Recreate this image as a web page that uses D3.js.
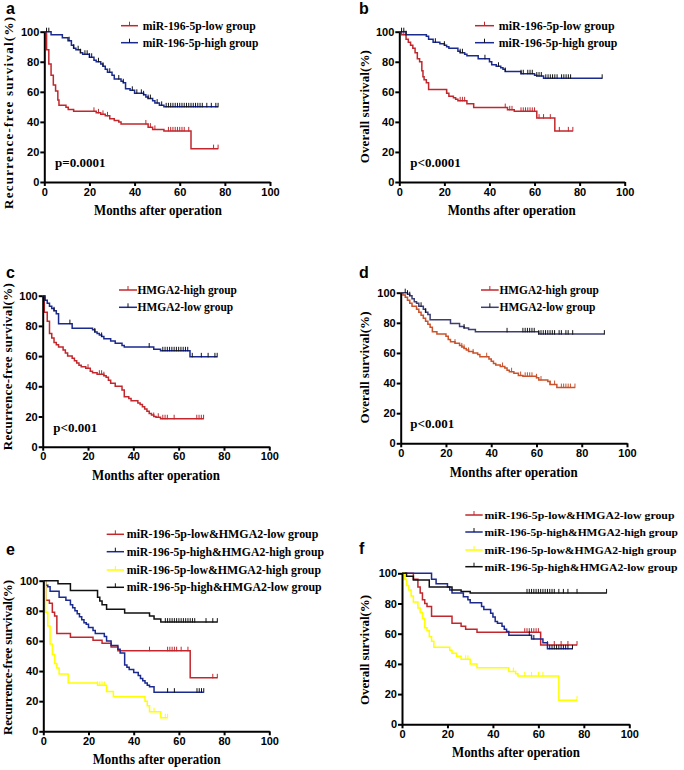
<!DOCTYPE html>
<html><head><meta charset="utf-8">
<script src="https://cdn.jsdelivr.net/npm/d3@7"></script>
<style>body{margin:0;background:#fff}svg{display:block}</style>
</head><body>
<svg id="chart" width="684" height="770"></svg>
<script>
// ---------------- DATA (time in months, survival in %) ----------------
const xTicks = [0, 20, 40, 60, 80, 100];
const yTicks = [0, 20, 40, 60, 80, 100];

// Panel a: Recurrence-free survival, miR-196-5p
const aLowSteps = [[1,88],[2,78.5],[3,71],[4,64.5],[5,60.5],[6,54.5],[6.5,51],[9.6,49.7],[10.6,48.3],[13,47],[23,46],[25,45],[27,44],[29,42],[31,41],[33,40],[34,38.6],[46,36.5],[48,35],[53,34],[65,22.2]];
const aLowCensor = [22,24,26,28,45,47,49,55,56,57,58,59,60,61,62,64,75,77];
const aLowEnd = 77;
const aHighSteps = [[3,98],[8,96],[10.5,94],[12,91],[13,89],[14,88],[16,86],[17,85],[20,83],[22,81],[23,80],[25,78.5],[26,77],[27,75],[28,73],[30,71],[31,68.5],[34,67],[35,66],[36,62],[38,61],[40,59],[44,58],[45,56.5],[46,55.5],[48,54],[49,52.5],[51,51],[53,50]];
const aHighCensor = [1,2,11,13,15,16,18,19,20,21,24,26,29,33,35,39,41,43,44,46,47,50,52,54,55,56,57,58,59,60,61,62,63,64,65,66,67,68,69,70,72,74,76,77];
const aHighEnd = 77;

// Panel b: Overall survival, miR-196-5p
const bLowSteps = [[1,98],[3,95],[4,93],[5,91],[6,89],[7,86],[8,82],[9,80],[10,74],[10.5,70],[11,68],[12,66],[13,61.5],[21,59],[22,57],[24,56],[25,55],[26,54],[30,52],[33,49.5],[48,48],[51,47],[61,42.5],[69,34]];
const bLowCensor = [2,21,27,28,29,47,49,50,54,55,56,57,58,59,60,62,64,67,71,75,77];
const bLowEnd = 77;
const bHighSteps = [[3,98],[12,97],[13,95],[15,93],[18,92],[20,91],[21,90],[22,89],[26,87],[27,86],[29,85],[30,84],[35,82],[40,80],[41,78],[43,77],[45,76],[46,75],[47,73.5],[54,72],[60,71],[61,70.5],[64,69]];
const bHighCensor = [1,2,3,16,20,27,28,38,44,47,54,55,57,58,59,61,62,63,65,66,67,68,69,70,72,73,74,75,76,90];
const bHighEnd = 90;

// Panel c: Recurrence-free survival, HMGA2
const cHighSteps = [[0.7,89],[2,83],[3,75],[4,72],[5,69],[6,67.5],[7,66],[9,64],[10,62],[11,60],[13,58.5],[14,57],[15,55.5],[16,54],[17,53],[19,52],[21,50],[22,49],[24,48],[27,47],[28,46],[29,44],[30,42],[32,40],[35,37.5],[36,33],[38,32],[39,30.5],[42,29],[43,28],[44,26.5],[45,25],[46,23.5],[47,22],[48,21],[49,20],[50,19.5],[52,18.5]];
const cHighCensor = [20,25,26,27,49,51,53,54,55,58,68,69,70,71];
const cHighEnd = 71;
const cLowSteps = [[1,97],[2,95],[3,93],[4,91.5],[5,90],[6,88],[7,81.5],[13,78.5],[22,77.5],[23,76],[24,75],[25,74],[26,73],[27,71.5],[30,70],[32,68.5],[35,67],[36,66],[49,64.5],[52,63.5],[65,59.5]];
const cLowCensor = [1,5,12,23,26,47,53,54,55,56,57,58,59,60,61,62,63,64,66,70,73,76,77];
const cLowEnd = 77;

// Panel d: Overall survival, HMGA2
const dHighSteps = [[1,98.5],[2,97],[3,95],[4,93],[5,91],[7,89],[8,87],[9,85],[10,83],[11,81],[12,79],[13,77],[14,74],[16,72.5],[20,71],[21,69],[22,67.5],[24,66.5],[26,65],[27,64],[28,63],[29,62],[30,61],[32,60],[34,59],[35,57.5],[39,56],[40,54.5],[41,53],[42,52],[44,51],[46,50],[47,48.5],[48,47.5],[50,46.5],[52,45],[54,44.5],[60,43.5],[61,42],[65,41],[66,39],[69,37]];
const dHighCensor = [24,27,28,30,32,38,45,49,53,55,56,57,58,60,62,66,68,71,72,73,74,75,77];
const dHighEnd = 77;
const dLowSteps = [[3,99],[4,98],[5,96],[6,94],[7,93],[8,91],[10,89],[11,87],[12,85.5],[13,82],[22,79.5],[26,77.5],[28,76.5],[30,75.5],[33,74],[61,72.5]];
const dLowCensor = [2,3,4,9,11,28,47,54,55,56,57,58,59,61,62,63,64,65,66,67,68,70,71,73,74,76,90];
const dLowEnd = 90;

// Panel e: Recurrence-free survival, combined groups
const eLLSteps = [[1,87],[2.7,85],[4,79],[5,76.5],[6,65],[12,62.5],[22,60.5],[26,58.5],[30,56],[33,53.5],[65,35.5]];
const eLLCensor = [47,55,56,57,58,59,61,64,75,77];
const eLLEnd = 77;
const eHHSteps = [[1,97],[2,96],[3,93],[7,89],[10,87],[12,84],[13,82],[14,80],[15,78],[16,76],[17,74],[18,72],[19,71],[20,69],[22,67],[23,65],[27,63],[28,60],[30,57],[33,54.5],[34,52],[36,44],[37,42.5],[38,41],[40,39],[42,37],[43,35],[44,33.5],[45,32],[46,30.5],[47,29.5],[49,26]];
const eHHCensor = [55,58,68,69,70,71];
const eHHEnd = 71;
const eLHSteps = [[1,79],[2,70],[3,58],[4,51],[5,45],[6,42],[7,38],[11,32],[24,30.5],[28,26.5],[31,23],[45,20],[46,17],[47,13],[52,9]];
const eLHCensor = [24,25,26,27,49,54,55];
const eLHEnd = 55;
const eHLSteps = [[6.5,98],[12,93.5],[24,89],[25,86.5],[26,84],[28,81],[36,78.5],[47,76.5],[49,74.5],[52,72.5]];
const eHLCensor = [54,55,56,57,58,59,60,61,62,63,64,65,66,67,72,75,77];
const eHLEnd = 77;

// Panel f: Overall survival, combined groups
const fLLSteps = [[5,96],[7,91],[8,87],[9,82.5],[10,80],[11,78],[13,71.5],[22,67],[26,65],[28,63],[33,61],[61,52.5]];
const fLLCensor = [54,55,56,57,58,59,60,64,67,70,73,77];
const fLLEnd = 77;
const fHHSteps = [[13,96],[15,93],[20,91],[21,89],[22,87],[27,84.5],[29,82.5],[30,80.5],[35,78],[36,76],[39,73.5],[40,71],[41,68],[42,67],[44,65],[45,63],[46,61.5],[47,59],[57,56.5],[62,54],[64,50]];
const fHHCensor = [56,58,65,66,67,68,69,70,71,72,73,75];
const fHHEnd = 75;
const fLHSteps = [[1,96],[2,92],[3,89],[4,85],[5,81],[7,77],[8,74],[9,70],[10,64],[11,62],[12,58],[13,55],[14,51],[21,49],[22,47],[24,45],[26,43],[30,40],[33,37.5],[47,35],[50,33.5],[51,32],[69,16]];
const fLHCensor = [28,29,49,54,57,60,62,77];
const fLHEnd = 77;
const fHLSteps = [[2,98],[5,95.5],[12,91],[22,89],[26,88],[30,87]];
const fHLCensor = [55,56,57,58,59,60,61,62,63,64,65,66,67,69,71,73,77,90];
const fHLEnd = 90;

// Labels
const labMirLow = "miR-196-5p-low group", labMirHigh = "miR-196-5p-high group";
const labHHigh = "HMGA2-high group", labHLow = "HMGA2-low group";
const labLL = "miR-196-5p-low&HMGA2-low group", labHH = "miR-196-5p-high&HMGA2-high group";
const labLH = "miR-196-5p-low&HMGA2-high group", labHL = "miR-196-5p-high&HMGA2-low group";
const xTitle = "Months after operation";
const yTitleRFS = "Recurrence-free survival(%)", yTitleOS = "Overall survival(%)";

// ---------------- STYLE / LAYOUT ----------------
const RED = "#c1272d", BLUE = "#1b2a8f", YEL = "#ffff00", BLK = "#111111", ORG = "#c9532b", NAVY = "#3c3f70";
const SERIF = "'Liberation Serif','Times New Roman',Times,serif";
const SANS = "'Liberation Sans',Arial,Helvetica,sans-serif";

const panels = [
 {id:"a", x0:44.3, x1:270, y0:182, y1:31.7, lab:[6,14], yT:yTitleRFS, yTx:12.5, yTy:113, yTl:192, xTx:158, xTy:215,
  p:"p=0.0001", px:55, py:167, legX:[121,138,142.7], legY:[25.7,42.7], legFs:12,
  curves:[
   {steps:aLowSteps, censor:aLowCensor, end:aLowEnd, color:RED, tick:RED, label:labMirLow, lw:113},
   {steps:aHighSteps, censor:aHighCensor, end:aHighEnd, color:BLUE, tick:BLK, label:labMirHigh, lw:115.7}]},
 {id:"b", x0:399.3, x1:624.7, y0:182, y1:31.7, lab:[359,14], yT:yTitleOS, yTx:368.7, yTy:106.7, yTl:113, xTx:511.7, xTy:215,
  p:"p<0.0001", px:410.3, py:167.3, legX:[475,494,498.7], legY:[25.7,42.7], legFs:12,
  curves:[
   {steps:bLowSteps, censor:bLowCensor, end:bLowEnd, color:RED, tick:RED, label:labMirLow, lw:116},
   {steps:bHighSteps, censor:bHighCensor, end:bHighEnd, color:BLUE, tick:BLK, label:labMirHigh, lw:118.7}]},
 {id:"c", x0:42.7, x1:269.3, y0:446.7, y1:295.7, lab:[6,278.3], yT:yTitleRFS, yTx:11.5, yTy:366.7, yTl:167, xTx:156, xTy:479.5,
  p:"p<0.001", px:53.3, py:431.5, legX:[119,137,137.5], legY:[290,307.3], legFs:12,
  curves:[
   {steps:cHighSteps, censor:cHighCensor, end:cHighEnd, color:RED, tick:RED, label:labHHigh, lw:99.3},
   {steps:cLowSteps, censor:cLowCensor, end:cLowEnd, color:BLUE, tick:BLK, label:labHLow, lw:95.7}]},
 {id:"d", x0:400.7, x1:627, y0:443.3, y1:292.7, lab:[359,278.3], yT:yTitleOS, yTx:368.7, yTy:367.5, yTl:112, xTx:513.7, xTy:476.5,
  p:"p<0.001", px:410.3, py:428.3, legX:[481,498.7,499.5], legY:[290,307.3], legFs:12,
  curves:[
   {steps:dHighSteps, censor:dHighCensor, end:dHighEnd, color:ORG, tick:ORG, label:labHHigh, lw:99.3, legColor:RED},
   {steps:dLowSteps, censor:dLowCensor, end:dLowEnd, color:NAVY, tick:BLK, label:labHLow, lw:96}]},
 {id:"e", x0:43.3, x1:269.3, y0:731.3, y1:580.7, lab:[6,555], yT:yTitleRFS, yTx:11.5, yTy:657.5, yTl:155, xTx:156.7, xTy:764,
  p:null, legX:[106.7,124,126.7], legY:[534.3,551.7,570,587.3], legFs:11.5,
  curves:[
   {steps:eLLSteps, censor:eLLCensor, end:eLLEnd, color:RED, tick:RED, label:labLL, lw:191.7},
   {steps:eHHSteps, censor:eHHCensor, end:eHHEnd, color:BLUE, tick:BLK, label:labHH, lw:197.3},
   {steps:eLHSteps, censor:eLHCensor, end:eLHEnd, color:YEL, tick:YEL, label:labLH, lw:194.3},
   {steps:eHLSteps, censor:eHLCensor, end:eHLEnd, color:BLK, tick:BLK, label:labHL, lw:195}]},
 {id:"f", x0:402, x1:629.3, y0:724.3, y1:573.3, lab:[359,554], yT:yTitleOS, yTx:368.7, yTy:650, yTl:110, xTx:516, xTy:756.7,
  p:null, legX:[465.3,482.7,484.5], legY:[515,532,550,566.7], legFs:11.3,
  curves:[
   {steps:fLLSteps, censor:fLLCensor, end:fLLEnd, color:RED, tick:RED, label:labLL, lw:190},
   {steps:fHHSteps, censor:fHHCensor, end:fHHEnd, color:BLUE, tick:BLK, label:labHH, lw:193.5},
   {steps:fLHSteps, censor:fLHCensor, end:fLHEnd, color:YEL, tick:YEL, label:labLH, lw:192},
   {steps:fHLSteps, censor:fHLCensor, end:fHLEnd, color:BLK, tick:BLK, label:labHL, lw:193}]}
];

// ---------------- DRAW ----------------
const svg = d3.select("#chart");
svg.append("rect").attr("width",684).attr("height",770).attr("fill","#fff");

function survAt(steps, t){
  let s = 100;
  for (const [st, v] of steps){ if (st <= t) s = v; else break; }
  return s;
}

panels.forEach(p => {
  const x = d3.scaleLinear().domain([0,100]).range([p.x0, p.x1]);
  const y = d3.scaleLinear().domain([0,100]).range([p.y0, p.y1]);
  const g = svg.append("g").attr("class","panel-"+p.id);
  const line = d3.line().x(d => x(d[0])).y(d => y(d[1])).curve(d3.curveStepAfter);

  p.curves.forEach(c => {
    const pts = [[0,100], ...c.steps, [c.end, c.steps[c.steps.length-1][1]]];
    g.append("path").attr("d", line(pts)).attr("fill","none")
      .attr("stroke", c.color).attr("stroke-width", 1.5).attr("stroke-linejoin","miter");
    g.selectAll(null).data(c.censor).enter().append("line")
      .attr("x1", d => x(d)).attr("x2", d => x(d))
      .attr("y1", d => y(survAt(c.steps, d)) - 4).attr("y2", d => y(survAt(c.steps, d)) + 0.5)
      .attr("stroke", c.tick).attr("stroke-width", 1);
  });

  // axes
  const ax = g.append("g").attr("transform", `translate(0,${p.y0})`)
    .call(d3.axisBottom(x).tickValues(xTicks).tickSize(4).tickSizeOuter(0).tickPadding(2));
  const ay = g.append("g").attr("transform", `translate(${p.x0},0)`)
    .call(d3.axisLeft(y).tickValues(yTicks).tickSize(4).tickSizeOuter(0).tickPadding(1));
  [ax, ay].forEach(a => {
    a.select(".domain").attr("stroke","#000").attr("stroke-width",2);
    a.selectAll(".tick line").attr("stroke","#000").attr("stroke-width",2);
    a.selectAll(".tick text").attr("fill","#000").style("font-family",SANS)
      .style("font-weight","bold").style("font-size","11px");
  });

  // panel letter
  g.append("text").attr("x", p.lab[0]).attr("y", p.lab[1]).text(p.id)
    .style("font-family", SANS).style("font-weight","bold").style("font-size","16px");

  // axis titles
  g.append("text").attr("x", p.xTx).attr("y", p.xTy).attr("text-anchor","middle")
    .attr("textLength", 128).attr("lengthAdjust","spacingAndGlyphs").text(xTitle)
    .style("font-family", SERIF).style("font-weight","bold").style("font-size","14px");
  g.append("text").attr("transform", `translate(${p.yTx},${p.yTy}) rotate(-90)`).attr("text-anchor","middle")
    .attr("textLength", p.yTl).attr("lengthAdjust","spacing").text(p.yT)
    .style("font-family", SERIF).style("font-weight","bold").style("font-size","13px");

  // p value
  if (p.p) g.append("text").attr("x", p.px).attr("y", p.py).text(p.p)
    .style("font-family", SERIF).style("font-weight","bold").style("font-size","13px");

  // legend
  p.curves.forEach((c, i) => {
    const ly = p.legY[i];
    const lc = c.legColor || c.color;
    g.append("line").attr("x1", p.legX[0]).attr("x2", p.legX[1]).attr("y1", ly).attr("y2", ly)
      .attr("stroke", lc).attr("stroke-width", 1.5);
    const mx = (p.legX[0] + p.legX[1]) / 2;
    g.append("line").attr("x1", mx).attr("x2", mx).attr("y1", ly - 4).attr("y2", ly)
      .attr("stroke", c.tick === YEL ? YEL : (c.tick === BLK ? BLK : lc)).attr("stroke-width", 1);
    g.append("text").attr("x", p.legX[2]).attr("y", ly + 4).text(c.label)
      .attr("textLength", c.lw).attr("lengthAdjust","spacingAndGlyphs")
      .style("font-family", SERIF).style("font-weight","bold").style("font-size", p.legFs + "px");
  });
});
</script>
</body></html>
